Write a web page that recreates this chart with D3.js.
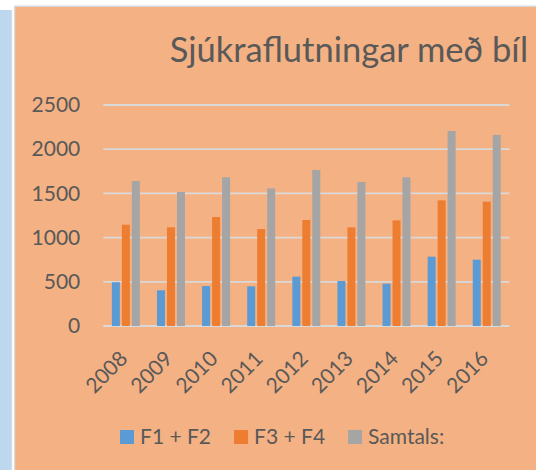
<!DOCTYPE html>
<html>
<head>
<meta charset="utf-8">
<script src="https://cdn.jsdelivr.net/npm/d3@7"></script>
<style>
  body { margin: 0; background: #fff; }
  svg { display: block; }
  text { font-family: Lato, "Open Sans", sans-serif; fill: #595959; }
</style>
</head>
<body>
<svg id="chart" width="536" height="470"></svg>
<script>
const years = ["2008", "2009", "2010", "2011", "2012", "2013", "2014", "2015", "2016"];
const seriesNames = ["F1 + F2", "F3 + F4", "Samtals:"];
const f1f2 = [495, 404, 452, 449, 558, 509, 479, 784, 750];
const f3f4 = [1146, 1116, 1233, 1097, 1199, 1116, 1195, 1421, 1406];
const samtals = [1640, 1516, 1682, 1557, 1765, 1629, 1682, 2206, 2161];
const yTicks = [0, 500, 1000, 1500, 2000, 2500];
const colors = ["#5B9BD5", "#ED7D31", "#A5A5A5"];

const svg = d3.select("#chart");

// page background: blue strip on the left, orange chart panel
svg.append("rect").attr("x", 0).attr("y", 10).attr("width", 11).attr("height", 460).attr("fill", "#BDD7EE");
svg.append("rect").attr("x", 11).attr("y", 10).attr("width", 1.2).attr("height", 460).attr("fill", "#D6DCE4");
svg.append("rect").attr("x", 14).attr("y", 5.5).attr("width", 530).attr("height", 470).attr("fill", "#D9D9D9");
svg.append("rect").attr("x", 15.3).attr("y", 7).attr("width", 530).attr("height", 470).attr("fill", "#F4B183");

const plot = { left: 103.3, right: 509.3, top: 105, bottom: 326 };

const x0 = d3.scaleBand()
    .domain(years)
    .range([plot.left, plot.right])
    .paddingInner(0.38)
    .paddingOuter(0.19);

const x1 = d3.scaleBand()
    .domain(seriesNames)
    .range([0, x0.bandwidth()])
    .paddingInner(0.2);

const y = d3.scaleLinear()
    .domain([0, 2500])
    .range([plot.bottom, plot.top]);

// gridlines
svg.append("g")
    .selectAll("line")
    .data(yTicks)
    .enter()
    .append("line")
    .attr("x1", plot.left)
    .attr("x2", plot.right)
    .attr("y1", d => y(d))
    .attr("y2", d => y(d))
    .attr("stroke", "#D9D9D9")
    .attr("stroke-width", 1.8);

// y axis labels
const yAxis = svg.append("g")
    .attr("transform", "translate(" + plot.left + ",0)")
    .call(d3.axisLeft(y).tickValues(yTicks).tickFormat(d3.format("d")).tickSize(0).tickPadding(23));
yAxis.select(".domain").remove();
yAxis.selectAll("text")
    .style("font-size", "21px")
    .attr("fill", "#595959");

// x axis labels, rotated
const xAxis = svg.append("g")
    .attr("transform", "translate(0," + plot.bottom + ")")
    .call(d3.axisBottom(x0).tickSize(0));
xAxis.select(".domain").remove();
xAxis.selectAll("text")
    .style("font-size", "21px")
    .attr("fill", "#595959")
    .attr("y", 0)
    .attr("dy", 0)
    .attr("text-anchor", "end")
    .attr("transform", "translate(3,34) rotate(-45)");

// bars
const rows = years.map((yr, i) => ({ year: yr, values: [f1f2[i], f3f4[i], samtals[i]] }));

const groups = svg.append("g")
    .selectAll("g")
    .data(rows)
    .enter()
    .append("g")
    .attr("transform", d => "translate(" + x0(d.year) + ",0)");

groups.selectAll("rect")
    .data(d => d.values.map((v, i) => ({ name: seriesNames[i], value: v, i: i })))
    .enter()
    .append("rect")
    .attr("x", d => x1(d.name))
    .attr("y", d => y(d.value))
    .attr("width", x1.bandwidth())
    .attr("height", d => y(0) - y(d.value))
    .attr("fill", d => colors[d.i]);

// title
svg.append("text")
    .attr("x", 349)
    .attr("y", 62)
    .attr("text-anchor", "middle")
    .style("font-size", "34.5px")
    .text("Sjúkraflutningar með bíl");

// legend
const legend = svg.append("g").attr("transform", "translate(120,437)");
let lx = 0;
seriesNames.forEach((name, i) => {
  const item = legend.append("g").attr("transform", "translate(" + lx + ",0)");
  item.append("rect")
      .attr("x", 0)
      .attr("y", -7)
      .attr("width", 14)
      .attr("height", 14)
      .attr("fill", colors[i]);
  const t = item.append("text")
      .attr("x", 20)
      .attr("dy", "0.35em")
      .style("font-size", "21px")
      .text(name);
  lx += 20 + t.node().getComputedTextLength() + 23;
});
</script>
</body>
</html>
